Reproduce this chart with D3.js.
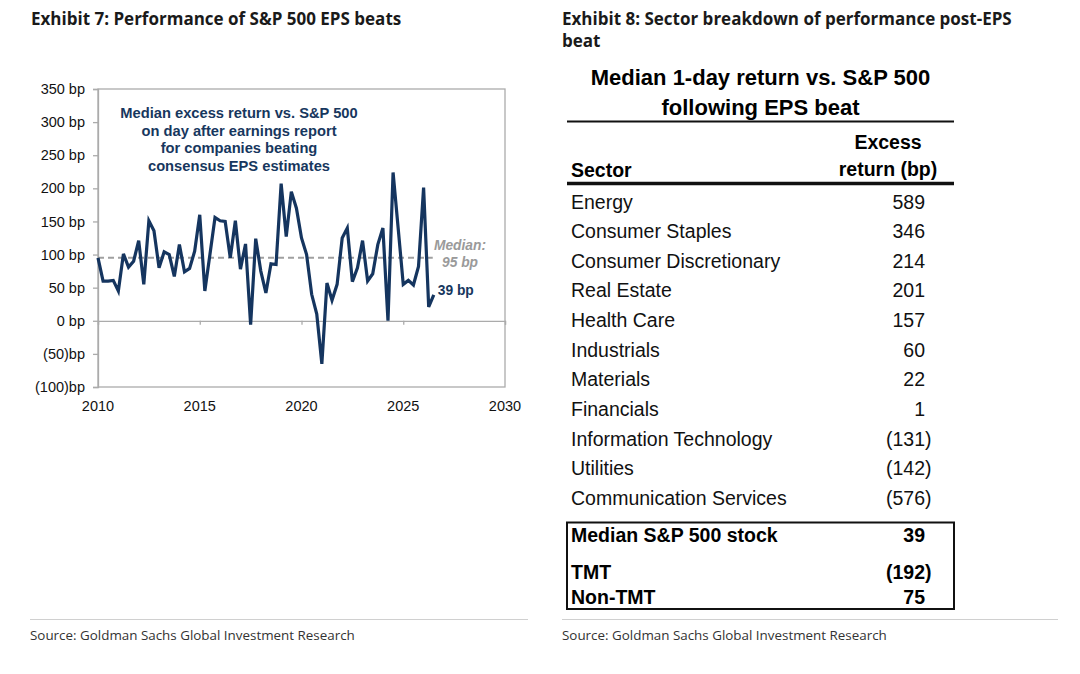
<!DOCTYPE html>
<html>
<head>
<meta charset="utf-8">
<script src="https://cdn.jsdelivr.net/npm/d3@7"></script>
<style>
  body { margin: 0; background: #fff; }
  svg { display: block; }
  .exhibit { font-family: "Open Sans", sans-serif; font-weight: 700; font-size: 17px; fill: #1a1a1a; }
  .source { font-family: "Open Sans", sans-serif; font-size: 13.4px; fill: #333; }
  .arial { font-family: "Liberation Sans", Arial, sans-serif; }
</style>
</head>
<body>
<svg class="main" width="1080" height="674"></svg>
<script>
// quarterly series, median excess return (bp) on day after EPS beat
var quarters = [
    "2010Q1","2010Q2","2010Q3","2010Q4","2011Q1","2011Q2","2011Q3","2011Q4",
    "2012Q1","2012Q2","2012Q3","2012Q4","2013Q1","2013Q2","2013Q3","2013Q4",
    "2014Q1","2014Q2","2014Q3","2014Q4","2015Q1","2015Q2","2015Q3","2015Q4",
    "2016Q1","2016Q2","2016Q3","2016Q4","2017Q1","2017Q2","2017Q3","2017Q4",
    "2018Q1","2018Q2","2018Q3","2018Q4","2019Q1","2019Q2","2019Q3","2019Q4",
    "2020Q1","2020Q2","2020Q3","2020Q4","2021Q1","2021Q2","2021Q3","2021Q4",
    "2022Q1","2022Q2","2022Q3","2022Q4","2023Q1","2023Q2","2023Q3","2023Q4",
    "2024Q1","2024Q2","2024Q3","2024Q4","2025Q1","2025Q2","2025Q3","2025Q4",
    "2026Q1","2026Q2","2026Q3"
];
var excessReturn = [
    95, 60, 60, 61, 45, 101, 81, 90,
    121, 55, 151, 136, 80, 104, 100, 67,
    115, 74, 79, 105, 160, 45, 100, 156,
    151, 150, 95, 151, 78, 116, -6, 124,
    75, 42, 86, 85, 207, 127, 195, 170,
    125, 100, 40, 10, -65, 57, 31, 55,
    125, 140, 59, 80, 121, 60, 71, 115,
    140, 0, 224, 140, 55, 61, 54, 82,
    201, 21, 39
];
var medianValue = 95;
var lastValue = 39;
var yTicks = [-100, -50, 0, 50, 100, 150, 200, 250, 300, 350];
var xTicks = [2010, 2015, 2020, 2025, 2030];
var noteLines = [
    "Median excess return vs. S&P 500",
    "on day after earnings report",
    "for companies beating",
    "consensus EPS estimates"
];

// sector table
var sectors = [
    "Energy", "Consumer Staples", "Consumer Discretionary", "Real Estate",
    "Health Care", "Industrials", "Materials", "Financials",
    "Information Technology", "Utilities", "Communication Services"
];
var sectorReturn = [589, 346, 214, 201, 157, 60, 22, 1, -131, -142, -576];
var summaryLabels = ["Median S&P 500 stock", "TMT", "Non-TMT"];
var summaryReturn = [39, -192, 75];

var svg = d3.select("svg.main");

function fmtBp(v) {
    return v < 0 ? "(" + Math.abs(v) : String(v);
}

function yLabel(v) {
    return v < 0 ? "(" + Math.abs(v) + ")bp" : v + " bp";
}

function drawHeaders() {
    svg.append("text").attr("class", "exhibit").attr("x", 31).attr("y", 25)
        .text("Exhibit 7: Performance of S&P 500 EPS beats");
    svg.append("text").attr("class", "exhibit").attr("x", 562).attr("y", 25)
        .text("Exhibit 8: Sector breakdown of performance post-EPS");
    svg.append("text").attr("class", "exhibit").attr("x", 562).attr("y", 47)
        .text("beat");

    var foot = [[30, 528], [562, 1058]];
    svg.selectAll(".foot-line")
        .data(foot)
        .enter()
            .append("line")
            .attr("class", "foot-line")
            .attr("x1", function(d) { return d[0]; })
            .attr("x2", function(d) { return d[1]; })
            .attr("y1", 619.5)
            .attr("y2", 619.5)
            .attr("stroke", "#d0d0d0")
            .attr("stroke-width", 1);
    svg.selectAll(".source")
        .data(foot)
        .enter()
            .append("text")
            .attr("class", "source")
            .attr("x", function(d) { return d[0]; })
            .attr("y", 639.5)
            .text("Source: Goldman Sachs Global Investment Research");
}

function drawLineChart() {
    var left = 98, right = 505, top = 89, bottom = 387;
    var x = d3.scaleLinear().domain([2010, 2030]).range([left, right]);
    var y = d3.scaleLinear().domain([-100, 350]).range([bottom, top]);
    var grey = "#ababab";

    var data = quarters.map(function(q, i) {
        var yr = +q.slice(0, 4), qt = +q.slice(5);
        return { t: yr + (qt - 1) / 4, v: excessReturn[i] };
    });

    // plot frame
    svg.append("rect")
        .attr("x", left).attr("y", top)
        .attr("width", right - left).attr("height", bottom - top)
        .attr("fill", "none").attr("stroke", grey).attr("stroke-width", 1.3);

    // y axis
    var yAxis = svg.append("g")
        .attr("class", "arial")
        .attr("transform", "translate(" + left + ",0)")
        .call(d3.axisLeft(y).tickValues(yTicks).tickSize(5).tickPadding(8).tickFormat(yLabel));
    yAxis.select(".domain").attr("stroke", grey).attr("stroke-width", 1.3);
    yAxis.selectAll(".tick line").attr("stroke", grey).attr("stroke-width", 1.3);
    yAxis.selectAll(".tick text").attr("font-size", 14.5).attr("fill", "#111")
        .attr("font-family", "Liberation Sans, Arial, sans-serif");

    // x axis sits on the zero line
    var xAxis = svg.append("g")
        .attr("transform", "translate(0," + y(0) + ")")
        .call(d3.axisBottom(x).tickValues(xTicks).tickSize(4).tickFormat(function() { return ""; }));
    xAxis.select(".domain").attr("stroke", grey).attr("stroke-width", 1.3);
    xAxis.selectAll(".tick line").attr("stroke", grey).attr("stroke-width", 1.3);

    svg.selectAll(".x-label")
        .data(xTicks)
        .enter()
            .append("text")
            .attr("class", "x-label arial")
            .attr("x", function(d) { return x(d); })
            .attr("y", bottom + 24)
            .attr("text-anchor", "middle")
            .attr("font-size", 14.5)
            .attr("fill", "#111")
            .text(function(d) { return d; });

    // median dashed line
    svg.append("line")
        .attr("x1", x(2010)).attr("x2", x(2026.45))
        .attr("y1", y(medianValue)).attr("y2", y(medianValue))
        .attr("stroke", "#a0a0a0").attr("stroke-width", 2)
        .attr("stroke-dasharray", "6,4");

    var line = d3.line()
        .x(function(d) { return x(d.t); })
        .y(function(d) { return y(d.v); });

    svg.append("path")
        .datum(data)
        .attr("d", line)
        .attr("fill", "none")
        .attr("stroke", "#15355f")
        .attr("stroke-width", 3.2)
        .attr("stroke-linejoin", "miter");

    // annotations
    svg.selectAll(".note")
        .data(noteLines)
        .enter()
            .append("text")
            .attr("class", "note arial")
            .attr("x", 239)
            .attr("y", function(d, i) { return 118 + i * 17.5; })
            .attr("text-anchor", "middle")
            .attr("font-size", 14.7)
            .attr("font-weight", 700)
            .attr("fill", "#17375e")
            .text(function(d) { return d; });

    var last = data[data.length - 1];
    svg.append("text").attr("class", "arial")
        .attr("x", 460).attr("y", y(medianValue) - 7.5)
        .attr("text-anchor", "middle").attr("font-size", 13.8)
        .attr("font-weight", 700).attr("font-style", "italic").attr("fill", "#9a9a9a")
        .text("Median:");
    svg.append("text").attr("class", "arial")
        .attr("x", 460).attr("y", y(medianValue) + 9)
        .attr("text-anchor", "middle").attr("font-size", 13.8)
        .attr("font-weight", 700).attr("font-style", "italic").attr("fill", "#9a9a9a")
        .text(medianValue + " bp");
    svg.append("text").attr("class", "arial")
        .attr("x", x(last.t) + 4).attr("y", 295)
        .attr("font-size", 13.8).attr("font-weight", 700).attr("fill", "#17375e")
        .text(lastValue + " bp");
}

function drawTable() {
    var tl = 567, tr = 954, labelX = 571, valueX = 925;

    svg.append("text").attr("class", "arial")
        .attr("x", 760.5).attr("y", 85)
        .attr("text-anchor", "middle").attr("font-size", 22).attr("font-weight", 700)
        .text("Median 1-day return vs. S&P 500");
    svg.append("text").attr("class", "arial")
        .attr("x", 760.5).attr("y", 114.5)
        .attr("text-anchor", "middle").attr("font-size", 22).attr("font-weight", 700)
        .text("following EPS beat");

    svg.append("line").attr("x1", tl).attr("x2", tr).attr("y1", 121.5).attr("y2", 121.5)
        .attr("stroke", "#111").attr("stroke-width", 2);

    svg.append("text").attr("class", "arial")
        .attr("x", labelX).attr("y", 177)
        .attr("font-size", 19.5).attr("font-weight", 700).text("Sector");
    svg.append("text").attr("class", "arial")
        .attr("x", 888).attr("y", 148.5)
        .attr("text-anchor", "middle").attr("font-size", 19.5).attr("font-weight", 700).text("Excess");
    svg.append("text").attr("class", "arial")
        .attr("x", 888).attr("y", 176)
        .attr("text-anchor", "middle").attr("font-size", 19.5).attr("font-weight", 700).text("return (bp)");

    svg.append("line").attr("x1", tl).attr("x2", tr).attr("y1", 183.5).attr("y2", 183.5)
        .attr("stroke", "#111").attr("stroke-width", 3.5);

    var rowY = d3.scalePoint().domain(sectors).range([201.7, 498]);

    var rows = svg.selectAll(".row")
        .data(sectors)
        .enter()
            .append("g")
            .attr("class", "row arial")
            .attr("transform", function(d) { return "translate(0," + rowY(d) + ")"; });
    rows.append("text")
        .attr("x", labelX).attr("dy", "0.35em")
        .attr("font-size", 19.5).attr("fill", "#111")
        .text(function(d) { return d; });
    rows.append("text")
        .attr("x", valueX).attr("dy", "0.35em").attr("text-anchor", "end")
        .attr("font-size", 19.5).attr("fill", "#111")
        .text(function(d, i) { return fmtBp(sectorReturn[i]); });
    rows.filter(function(d, i) { return sectorReturn[i] < 0; })
        .append("text")
        .attr("x", valueX).attr("dy", "0.35em")
        .attr("font-size", 19.5).attr("fill", "#111")
        .text(")");

    // summary box
    svg.append("rect")
        .attr("x", 567).attr("y", 522.5).attr("width", 387).attr("height", 86.5)
        .attr("fill", "none").attr("stroke", "#111").attr("stroke-width", 2);

    var sumY = d3.scaleOrdinal().domain(summaryLabels).range([535.5, 572, 597]);
    var srows = svg.selectAll(".srow")
        .data(summaryLabels)
        .enter()
            .append("g")
            .attr("class", "srow arial")
            .attr("transform", function(d) { return "translate(0," + sumY(d) + ")"; });
    srows.append("text")
        .attr("x", labelX).attr("dy", "0.35em")
        .attr("font-size", 19.5).attr("font-weight", 700).attr("fill", "#000")
        .text(function(d) { return d; });
    srows.append("text")
        .attr("x", valueX).attr("dy", "0.35em").attr("text-anchor", "end")
        .attr("font-size", 19.5).attr("font-weight", 700).attr("fill", "#000")
        .text(function(d, i) { return fmtBp(summaryReturn[i]); });
    srows.filter(function(d, i) { return summaryReturn[i] < 0; })
        .append("text")
        .attr("x", valueX).attr("dy", "0.35em")
        .attr("font-size", 19.5).attr("font-weight", 700).attr("fill", "#000")
        .text(")");
}

drawHeaders();
drawLineChart();
drawTable();
</script>
</body>
</html>
